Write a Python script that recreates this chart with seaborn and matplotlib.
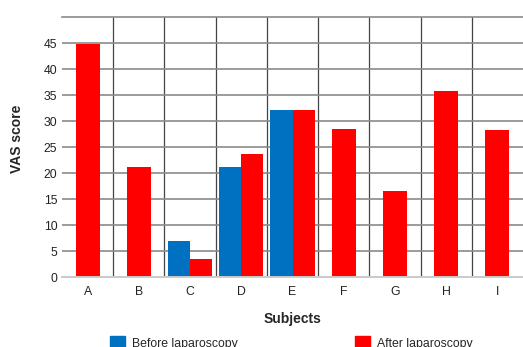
import numpy as np
import pandas as pd
import matplotlib
matplotlib.use("Agg")
import matplotlib.pyplot as plt
import seaborn as sns

# data
subjects = ["A", "B", "C", "D", "E", "F", "G", "H", "I"]
before = [np.nan, np.nan, 7.0, 21.2, 32.2, np.nan, np.nan, np.nan, np.nan]
after = [44.8, 21.2, 3.4, 23.6, 32.2, 28.4, 16.6, 35.7, 28.3]
periods = ["Before laparoscopy", "After laparoscopy"]
colors = ["#0070C0", "#FF0000"]

sns.set_theme(style="white")
plt.rcParams["font.family"] = ["Liberation Sans", "DejaVu Sans"]

df = pd.DataFrame({
    "subject": subjects * 2,
    "period": [periods[0]] * len(subjects) + [periods[1]] * len(subjects),
    "score": before + after,
}).dropna()

# subjects that have both measurements get dodged bars, others one centred bar
paired = df.groupby("subject")["period"].transform("count") == 2
df_pair = df[paired]
df_single = df[~paired]

fig = plt.figure(figsize=(5.23, 3.47), dpi=100)
ax = fig.add_axes([62 / 523, 1 - 277 / 347, 461 / 523, 260 / 347])

sns.barplot(data=df_single, x="subject", y="score", order=subjects,
            color=colors[1], width=0.47, errorbar=None, linewidth=0,
            saturation=1, ax=ax)
sns.barplot(data=df_pair, x="subject", y="score", hue="period", order=subjects,
            hue_order=periods, palette=colors, width=0.86, errorbar=None,
            linewidth=0, saturation=1, ax=ax)
ax.get_legend().remove()

ax.set_xlim(-0.5, len(subjects) - 0.5)
ax.set_ylim(0, 50)
ax.set_yticks(np.arange(0, 50, 5))
ax.set_xticks(np.arange(len(subjects) - 1) + 0.5, minor=True)
ax.set_axisbelow(True)
ax.grid(axis="y", which="major", color="#8a8a8a", linewidth=1.2)
ax.grid(axis="x", which="minor", color="#444444", linewidth=0.9)
ax.tick_params(axis="both", which="both", length=0, labelsize=8.8, colors="#222222")
ax.tick_params(axis="y", pad=3.4)
ax.tick_params(axis="x", pad=6.5)

for side in ["left", "right"]:
    ax.spines[side].set_visible(False)
ax.spines["top"].set_color("#8a8a8a")
ax.spines["top"].set_linewidth(1.2)
ax.spines["bottom"].set_color("#cccccc")
ax.spines["bottom"].set_linewidth(1.4)

ax.set_xlabel("Subjects", fontsize=10, fontweight="bold")
ax.set_ylabel("VAS score", fontsize=10, fontweight="bold")
ax.xaxis.set_label_coords(0.5, -0.133)
ax.yaxis.set_label_coords(-0.082, 0.53)

handles = [plt.Rectangle((0, 0), 1, 1, color=c) for c in colors]
fig.legend(handles, periods, loc="center left",
           bbox_to_anchor=(110 / 523, 1 - 343 / 347), ncol=2,
           frameon=False, fontsize=8.8, handlelength=1.23, handleheight=1.2,
           handletextpad=0.57, columnspacing=9.6, borderpad=0, borderaxespad=0)

fig.savefig("out.png", dpi=100)
